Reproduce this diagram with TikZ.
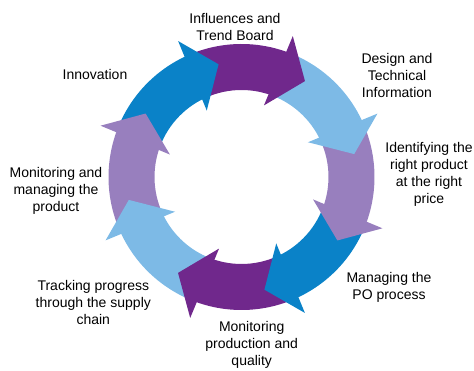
\documentclass[tikz,border=0pt]{standalone}
\usepackage{fontspec}
\setmainfont{Liberation Sans}
\definecolor{cpurple}{RGB}{112,40,140}
\definecolor{clight}{RGB}{125,186,230}
\definecolor{clav}{RGB}{152,127,190}
\definecolor{cblue}{RGB}{10,130,200}
\begin{document}
\begin{tikzpicture}[x=1pt,y=1pt,
  lbl/.style={align=center, font=\fontsize{14}{17}\selectfont, text=black, inner sep=0pt}]
\useasboundingbox (0,0) rectangle (474,371);

% cycle of eight curved arrows, clockwise from the top
\begin{scope}[shift={(241.5,194)}]
  % arrow bodies (ring sectors)
  \foreach \k/\c in {0/cpurple,1/clight,2/clav,3/cblue,4/cpurple,5/clight,6/clav,7/cblue}{
    \pgfmathsetmacro\S{114-45*\k}
    \pgfmathsetmacro\E{67-45*\k}
    \fill[\c] (\S:133pt) arc[start angle=\S, end angle=\E, radius=133pt]
      -- (\E:87pt) arc[start angle=\E, end angle=\S, radius=87pt] -- cycle;
  }
  % arrow heads, laid over the tail of the following arrow
  \foreach \k/\c in {0/cpurple,1/clight,2/clav,3/cblue,4/cpurple,5/clight,6/clav,7/cblue}{
    \pgfmathsetmacro\B{70-45*\k}
    \pgfmathsetmacro\T{56.5-45*\k}
    \pgfmathsetmacro\I{72.6-45*\k}
    \fill[\c] (\B:150pt) -- (\T:115pt) -- (\I:75pt) -- cycle;
  }
\end{scope}

% step labels
\node[lbl] (influences) at (235,342.3) {\strut Influences and\\Trend Board\strut};
\node[lbl] (design) at (397,293.7) {\strut Design and\\Technical\\Information\strut};
\node[lbl] (identify) at (429,196) {\strut Identifying the\\right product\\at the right\\price\strut};
\node[lbl] (managepo) at (389,83.5) {\strut Managing the\\PO process\strut};
\node[lbl] (production) at (251.7,25.5) {\strut Monitoring\\production and\\quality\strut};
\node[lbl] (tracking) at (93.3,66.8) {\strut Tracking progress\\through the supply\\chain\strut};
\node[lbl] (monitorprod) at (56,179.8) {\strut Monitoring and\\managing the\\product\strut};
\node[lbl] (innovation) at (95,295.3) {\strut Innovation\strut};
\end{tikzpicture}
\end{document}
